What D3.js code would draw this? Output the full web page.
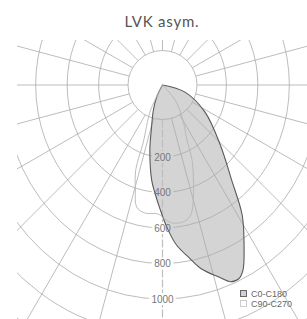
<!DOCTYPE html>
<html>
<head>
<meta charset="utf-8">
<script src="https://cdn.jsdelivr.net/npm/d3@7"></script>
<style>
  html, body { margin: 0; padding: 0; background: #fff; }
  svg { display: block; }
</style>
</head>
<body>
<svg id="chart" width="307" height="319"></svg>
<script>
  const title = "LVK asym.";
  const ringValues = [200, 400, 600, 800, 1000, 1200, 1400, 1600, 1800];
  const ringLabels = [200, 400, 600, 800, 1000];
  const gridAngles = [0, 15, 30, 45, 60, 75, 90, 105, 120, 135, 150, 165, 180,
    195, 210, 225, 240, 255, 270, 285, 300, 315, 330, 345];

  // C0-C180 plane, angle from nadir (positive = C0 side), intensity in cd/klm
  const c0Angles = [-40, -26, -20, -14, -11, -6.5, -4, -1, 2, 5, 9, 12, 16.5, 19, 21.5, 23.5, 27, 31.5, 36, 44, 57.5, 72.5, 90];
  const c0Values = [0, 74, 150, 261, 373, 539, 610, 704, 810, 905, 990, 1060, 1130, 1172, 1173, 1137, 1012, 859, 663, 468, 284, 133, 0];

  // C90-C270 plane
  const c90Angles = [-35, -26.5, -25, -18.5, -17.5, -14.5, -12, -8, -2, 1, 4, 8.5, 12, 14.5, 18, 21.5, 24, 31.5, 40, 50];
  const c90Values = [0, 95, 168, 345, 501, 611, 702, 728, 727, 755, 779, 780, 754, 687, 563, 454, 339, 211, 110, 0];

  const legendItems = ["C0-C180", "C90-C270"];

  const width = 307;
  const height = 319;
  const cx = 162.5;
  const cy = 85;
  const innerRadius = 34.5;
  const squeeze = 0.887;
  const gridColor = "#ababab";
  const labelFont = "'Liberation Sans Narrow', 'Arial Narrow', 'Liberation Sans', sans-serif";

  const svg = d3.select("#chart");
  const defs = svg.append("defs");

  defs.append("clipPath")
    .attr("id", "plotClip")
    .append("rect")
    .attr("x", 17)
    .attr("y", 40)
    .attr("width", width - 17)
    .attr("height", height - 40);

  const ringScale = d3.scaleLinear().domain([0, 1000]).range([36.5, 214]);
  const curveScale = d3.scaleLinear().domain([0, 1000]).range([0, 177.5]);

  // title
  svg.append("text")
    .attr("x", 162)
    .attr("y", 27)
    .attr("text-anchor", "middle")
    .attr("font-family", "Lato, 'Open Sans', sans-serif")
    .attr("font-size", 15)
    .attr("letter-spacing", 0.8)
    .attr("fill", "#555")
    .text(title);

  const plot = svg.append("g").attr("clip-path", "url(#plotClip)");
  const center = plot.append("g").attr("transform", `translate(${cx},${cy})`);

  const radial = (angles, values) => d3.lineRadial()
    .angle((d, i) => Math.PI - angles[i] * Math.PI / 180)
    .radius((d) => curveScale(d))
    .curve(d3.curveCatmullRom.alpha(0.5))(values) + "Z";

  // C0-C180 fill
  center.append("path")
    .attr("d", radial(c0Angles, c0Values))
    .attr("fill", "#d4d4d4")
    .attr("stroke", "none");

  // ring labels, also used to cut gaps into the grid
  const labelGroup = center.append("g");
  const labels = labelGroup.selectAll("text")
    .data(ringLabels)
    .join("text")
    .attr("x", 0)
    .attr("y", (d) => ringScale(d))
    .attr("text-anchor", "middle")
    .attr("dy", "0.35em")
    .attr("font-family", labelFont)
    .attr("font-size", 10)
    .attr("fill", "#777")
    .text((d) => d);

  const mask = defs.append("mask").attr("id", "gridMask")
    .attr("maskUnits", "userSpaceOnUse")
    .attr("x", -400).attr("y", -400).attr("width", 800).attr("height", 800);
  mask.append("rect")
    .attr("x", -400).attr("y", -400).attr("width", 800).attr("height", 800)
    .attr("fill", "#fff");
  labels.each(function (d) {
    const w = this.getComputedTextLength();
    mask.append("rect")
      .attr("x", -w / 2 - 2.5)
      .attr("y", ringScale(d) - 6)
      .attr("width", w + 5)
      .attr("height", 12)
      .attr("fill", "#000");
  });

  const grid = center.insert("g", () => labelGroup.node())
    .attr("mask", "url(#gridMask)")
    .attr("fill", "none")
    .attr("stroke", gridColor)
    .attr("stroke-width", 0.8);

  grid.selectAll("ellipse")
    .data(ringValues)
    .join("ellipse")
    .attr("rx", (d) => ringScale(d) * squeeze)
    .attr("ry", (d) => ringScale(d));

  grid.append("circle").attr("r", innerRadius);

  grid.selectAll("line")
    .data(gridAngles)
    .join("line")
    .attr("x1", (d) => innerRadius * Math.sin(d * Math.PI / 180))
    .attr("y1", (d) => innerRadius * Math.cos(d * Math.PI / 180))
    .attr("x2", (d) => 420 * Math.sin(d * Math.PI / 180))
    .attr("y2", (d) => 420 * Math.cos(d * Math.PI / 180))
    .attr("stroke", (d) => (d === 0 ? "#bdbdbd" : gridColor))
    .attr("stroke-width", (d) => (d === 0 ? 1.2 : 0.8))
    .attr("stroke-dasharray", (d) => (d === 0 ? "8 2" : null));

  // C0-C180 outline
  center.insert("path", () => labelGroup.node())
    .attr("d", radial(c0Angles, c0Values))
    .attr("fill", "none")
    .attr("stroke", "#5a5a5a")
    .attr("stroke-width", 1.1);

  // C90-C270 outline
  center.insert("path", () => labelGroup.node())
    .attr("d", radial(c90Angles, c90Values))
    .attr("fill", "none")
    .attr("stroke", "#b5b5b5")
    .attr("stroke-width", 0.9);

  // legend
  const legend = svg.append("g").attr("transform", "translate(240,290)");
  const item = legend.selectAll("g")
    .data(legendItems)
    .join("g")
    .attr("transform", (d, i) => `translate(0,${i * 10})`);

  item.append("rect")
    .attr("x", 0.5)
    .attr("y", 0.5)
    .attr("width", 6)
    .attr("height", 6)
    .attr("fill", (d, i) => (i === 0 ? "#d0d0d0" : "#fff"))
    .attr("stroke", (d, i) => (i === 0 ? "#666" : "#ccc"))
    .attr("stroke-width", 1);

  item.append("text")
    .attr("x", 11)
    .attr("y", 3.5)
    .attr("dy", "0.35em")
    .attr("font-family", labelFont)
    .attr("font-size", 9)
    .attr("fill", "#666")
    .text((d) => d);
</script>
</body>
</html>
